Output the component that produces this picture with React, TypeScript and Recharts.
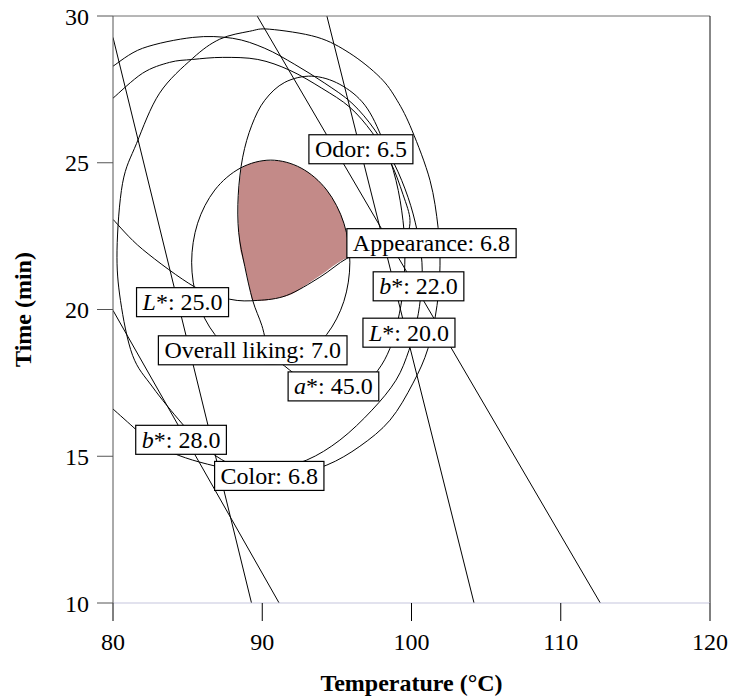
import { ComposedChart, Line, Area, Scatter, XAxis, YAxis, ReferenceLine } from 'recharts'

const FONT = '"Liberation Serif", "Times New Roman", serif'

const xTicks = [80, 90, 100, 110, 120]
const yTicks = [10, 15, 20, 25, 30]

// contour traces, [temperature, time]
const colorCurve = [
  [91.85, 14.36], [89.5, 14.39], [87.68, 14.77], [86.14, 15.31], [84.6, 16.13], [82.65, 17.36],
  [81.31, 18.44], [80.5, 20.31], [80.27, 22.02], [80.64, 24.3], [81.58, 25.66], [83.12, 27.37],
  [85.34, 28.56], [87.15, 29.21], [89.16, 29.48], [90.5, 29.55], [93.66, 29.28], [95.87, 28.73],
  [97.89, 27.91], [99.03, 27.13], [100.03, 26.11], [101.24, 24.4], [101.78, 22.8], [101.91, 21.51],
  [101.71, 20.14], [101.11, 18.68], [100.1, 17.49], [98.56, 16.23], [96.54, 15.34], [94.33, 14.7],
  [91.85, 14.36],
]
const overallCurve = [
  [90.57, 18.14], [92.6, 18.4], [94.32, 19.15], [95.47, 20.28], [95.87, 21.61], [95.47, 22.94],
  [94.32, 24.07], [92.6, 24.82], [90.57, 25.09], [88.54, 24.82], [86.82, 24.07], [85.67, 22.94],
  [85.27, 21.61], [85.67, 20.28], [86.82, 19.15], [88.54, 18.4], [90.57, 18.14],
]
const aStarCurve = [
  [92.85, 17.59], [94.87, 17.17], [96.54, 17.31], [97.75, 17.93], [98.56, 18.68], [99.09, 19.63],
  [99.43, 20.65], [99.56, 21.84], [99.43, 23.03], [98.96, 24.4], [98.09, 25.76], [96.88, 26.96],
  [95.2, 27.67], [93.32, 27.95], [91.51, 27.74], [90.17, 27.13], [89.3, 26.28], [88.69, 25.19],
  [88.39, 23.89], [88.42, 22.63], [88.83, 21.47], [89.36, 20.31], [89.97, 19.46], [90.5, 18.54],
  [91.51, 18.07], [92.85, 17.59],
]
const appearanceCurve = [
  [80, 27.2], [81.98, 28.05], [83.79, 28.42], [85.34, 28.52], [87.35, 28.59], [89.7, 28.52],
  [91.85, 28.15], [93.99, 27.54], [95.87, 26.89], [97.35, 26.04], [98.56, 25.06], [99.43, 23.92],
  [99.9, 23.03], [99.5, 22.36], [98.56, 22.15], [97.21, 22.02], [95.67, 21.74], [93.86, 21.1],
  [91.64, 20.48], [89.7, 20.31], [87.82, 20.35], [85.47, 20.77], [81.98, 22.05], [80, 23.07],
]
const odorCurve = [
  [80, 28.29], [81.98, 28.9], [85.34, 29.27], [88.02, 29.24], [90.17, 28.9], [92.18, 28.35],
  [94.19, 27.71], [96.01, 27.03], [97.55, 26.11], [98.83, 24.98], [99.77, 23.82], [100.37, 22.7],
  [100.7, 21.61], [100.64, 20.59], [100.37, 19.63], [99.83, 18.61], [98.96, 17.59], [97.35, 16.57],
  [95.2, 15.55], [92.98, 14.87], [90.5, 14.53], [88.02, 14.56], [85.81, 14.8], [83.99, 15.11],
  [82.45, 15.48], [81.58, 15.89], [80, 16.61],
]
const b22Line = [[89.66, 30], [112.65, 10]]
const l20Line = [[94.33, 30], [104.19, 10]]
const l25Line = [[80, 29.27], [89.28, 10]]
const b28Line = [[80, 19.97], [91.13, 10]]

// optimum region: temperature, [lower time, upper time]
const shadeT = [88.4, 88.49, 88.62, 88.83, 89.09, 89.36, 90, 91, 92, 93, 94, 95, 95.47, 95.8, 95.86]
const shadeLow = [22.96, 22.19, 21.85, 21.47, 20.89, 20.31, 20.3, 20.38, 20.53, 20.86, 21.2, 21.57, 21.71, 21.8, 21.88]
const shadeHigh = [23.72, 24.33, 24.81, 24.89, 24.95, 25.0, 25.06, 25.07, 24.95, 24.7, 24.26, 23.52, 22.94, 22.16, 21.95]

const labels = [
  { x: 96.61, y: 25.46, pre: '', text: 'Odor: 6.5' },
  { x: 101.34, y: 22.26, pre: '', text: 'Appearance: 6.8' },
  { x: 100.47, y: 20.79, pre: 'b', text: '*: 22.0' },
  { x: 99.83, y: 19.21, pre: 'L', text: '*: 20.0' },
  { x: 84.66, y: 20.25, pre: 'L', text: '*: 25.0' },
  { x: 89.36, y: 18.61, pre: '', text: 'Overall liking: 7.0' },
  { x: 94.77, y: 17.38, pre: 'a', text: '*: 45.0' },
  { x: 84.56, y: 15.56, pre: 'b', text: '*: 28.0' },
  { x: 90.47, y: 14.33, pre: '', text: 'Color: 6.8' },
]

const toXY = (pts: number[][]) => pts.map(([x, y]) => ({ x, y }))

// smooth curve through the traced points (Catmull-Rom), closed or open
function catmull(closed: boolean) {
  return (context: any) => {
    let pts: number[][] = []
    return {
      areaStart() {},
      areaEnd() {},
      lineStart() {
        pts = []
      },
      point(x: number, y: number) {
        pts.push([+x, +y])
      },
      lineEnd() {
        let p = pts
        if (closed && p.length > 2) {
          const a = p[0]
          const b = p[p.length - 1]
          if (Math.abs(a[0] - b[0]) + Math.abs(a[1] - b[1]) < 1) p = p.slice(0, -1)
        }
        const n = p.length
        if (!n) return
        const get = (i: number) => (closed ? p[(i + n) % n] : p[Math.max(0, Math.min(n - 1, i))])
        context.moveTo(p[0][0], p[0][1])
        const segs = closed ? n : n - 1
        for (let i = 0; i < segs; i++) {
          const p0 = get(i - 1)
          const p1 = get(i)
          const p2 = get(i + 1)
          const p3 = get(i + 2)
          context.bezierCurveTo(
            p1[0] + (p2[0] - p0[0]) / 6,
            p1[1] + (p2[1] - p0[1]) / 6,
            p2[0] - (p3[0] - p1[0]) / 6,
            p2[1] - (p3[1] - p1[1]) / 6,
            p2[0],
            p2[1],
          )
        }
        if (closed) context.closePath()
      },
    }
  }
}

const curves = [
  { key: 'color', pts: colorCurve, type: catmull(true) },
  { key: 'overall', pts: overallCurve, type: catmull(true) },
  { key: 'astar', pts: aStarCurve, type: catmull(true) },
  { key: 'appearance', pts: appearanceCurve, type: catmull(false) },
  { key: 'odor', pts: odorCurve, type: catmull(false) },
  { key: 'b22', pts: b22Line, type: 'linear' },
  { key: 'l20', pts: l20Line, type: 'linear' },
  { key: 'l25', pts: l25Line, type: 'linear' },
  { key: 'b28', pts: b28Line, type: 'linear' },
]

const shade = shadeT.map((x, i) => ({ x, r: [shadeLow[i], shadeHigh[i]] }))

const ctx = typeof document !== 'undefined' ? document.createElement('canvas').getContext('2d') : null
function measure(s: string, italic: boolean) {
  if (!s) return 0
  if (!ctx) return s.length * 11
  ctx.font = `${italic ? 'italic ' : ''}24px "Liberation Serif"`
  return ctx.measureText(s).width
}

function LabelBox(props: any) {
  const { cx, cy, payload } = props
  const w = measure(payload.pre, true) + measure(payload.text, false) + 12
  return (
    <g>
      <rect x={cx - w / 2} y={cy - 14.5} width={w} height={29} fill="#fff" stroke="#000" strokeWidth={1.2} />
      <text x={cx} y={cy} textAnchor="middle" dominantBaseline="central" fontSize={24} fontFamily={FONT} fill="#000">
        {payload.pre ? <tspan fontStyle="italic">{payload.pre}</tspan> : null}
        <tspan>{payload.text}</tspan>
      </text>
    </g>
  )
}

const tickStyle = { fontSize: 24, fill: '#000', fontFamily: FONT }

export default function App() {
  return (
    <div style={{ fontFamily: FONT }}>
      <style>{'body{margin:0;overflow:hidden;background:#fff}'}</style>
      <ComposedChart width={729} height={697} margin={{ top: 16, right: 19, bottom: 0, left: 0 }}>
        <XAxis
          type="number"
          dataKey="x"
          domain={[80, 120]}
          ticks={xTicks}
          allowDataOverflow
          height={94}
          tickSize={18}
          tickMargin={12}
          axisLine={{ stroke: '#c5c5dd' }}
          tickLine={{ stroke: '#000' }}
          tick={tickStyle}
          label={{ value: 'Temperature (°C)', position: 'insideBottom', offset: 6, fontSize: 24, fontWeight: 'bold', fill: '#000', fontFamily: FONT }}
        />
        <YAxis
          type="number"
          dataKey="y"
          domain={[10, 30]}
          ticks={yTicks}
          allowDataOverflow
          width={113}
          tickSize={16}
          tickMargin={8}
          axisLine={{ stroke: '#555' }}
          tickLine={{ stroke: '#555' }}
          tick={tickStyle}
          label={{ value: 'Time (min)', angle: -90, position: 'insideLeft', offset: 22, fontSize: 24, fontWeight: 'bold', fill: '#000', fontFamily: FONT, style: { textAnchor: 'middle' } }}
        />
        <Area data={shade} dataKey="r" type="monotone" fill="#c38a88" fillOpacity={1} stroke="none" isAnimationActive={false} />
        {curves.map((c) => (
          <Line
            key={c.key}
            data={toXY(c.pts)}
            dataKey="y"
            type={c.type as any}
            stroke="#000"
            strokeWidth={1}
            dot={false}
            activeDot={false}
            isAnimationActive={false}
          />
        ))}
        <ReferenceLine y={30} stroke="#6e6e6e" />
        <ReferenceLine x={120} stroke="#111" />
        <Scatter data={labels} shape={LabelBox} isAnimationActive={false} />
      </ComposedChart>
    </div>
  )
}
